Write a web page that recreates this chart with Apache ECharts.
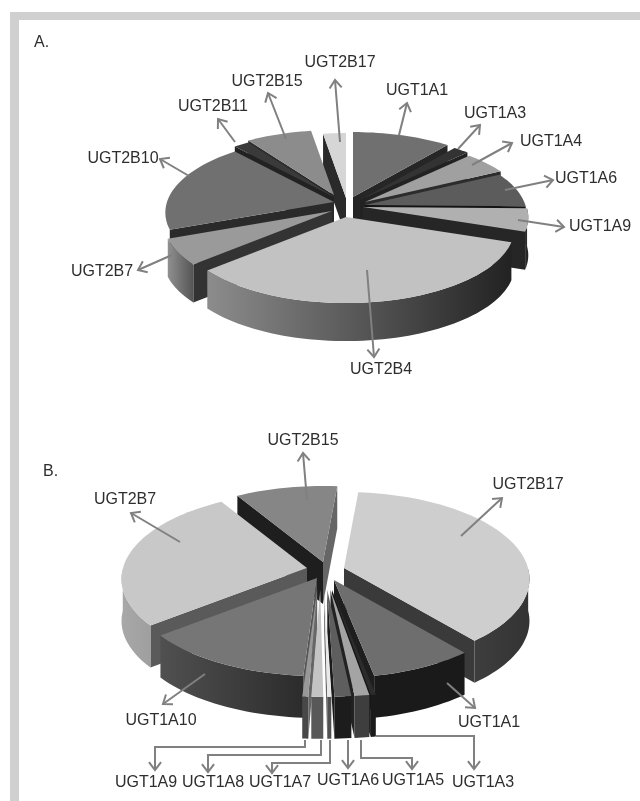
<!DOCTYPE html>
<html>
<head>
<meta charset="utf-8">
<style>
  html, body { margin: 0; padding: 0; background: #fff; }
  #chart-container { width: 640px; height: 801px; filter: blur(0.5px); }
</style>
<script src="https://cdn.jsdelivr.net/npm/echarts@6/dist/echarts.min.js"></script>
</head>
<body>
<div id="chart-container"></div>
<script>
// values, percent of the whole (estimates)
const namesA = ['UGT1A1', 'UGT1A3', 'UGT1A4', 'UGT1A6', 'UGT1A9', 'UGT2B4', 'UGT2B7', 'UGT2B10', 'UGT2B11', 'UGT2B15', 'UGT2B17'];
const valuesA = [10.8, 1.7, 5, 7.8, 5, 33.3, 5.6, 19.4, 1.7, 7.2, 2.5];
const namesB = ['UGT2B17', 'UGT1A1', 'UGT1A3', 'UGT1A5', 'UGT1A6', 'UGT1A7', 'UGT1A8', 'UGT1A9', 'UGT1A10', 'UGT2B7', 'UGT2B15'];
const valuesB = [37.5, 8, 0.35, 1.04, 1.18, 0.28, 0.83, 0.42, 13.3, 27, 10];

// pie shape: radii, perspective, thickness, first slice angle
const pieA = { rx: 167, ry: 74, k: 0.14, depth: 38, start: 0 };
const pieB = { rx: 184, ry: 85.6, k: 0.126, depth: 42, start: 5 };

// per slice look: apex position, radius factor, top colour, radial wall colours, outer wall gradient
const looksA = {
  UGT1A1: { apex: [353, 197], top: '#707070', side: '#262626', wall: ['#777', '#333'] },
  UGT1A3: { apex: [360, 200], top: '#333333', side: '#222', wall: ['#555', '#222'] },
  UGT1A4: { apex: [365, 202], r: 0.97, top: '#a0a0a0', side: '#2c2c2c', wall: ['#777', '#333'] },
  UGT1A6: { apex: [365, 205], r: 0.96, top: '#5c5c5c', side: '#141414', wall: ['#1c1c1c', '#1c1c1c'] },
  UGT1A9: { apex: [363, 207], r: 0.98, top: '#b0b0b0', side: '#262626', wall: ['#333', '#1e1e1e'] },
  UGT2B4: { apex: [346, 217], top: '#c2c2c2', side: '#222', wall: ['#8c8c8c', '#222'] },
  UGT2B7: { apex: [332, 211], top: '#9a9a9a', side: '#333', wall: ['#909090', '#555'] },
  UGT2B10: { apex: [334, 202], top: '#707070', side: '#2a2a2a', noWall: true, wall: ['#666', '#333'] },
  UGT2B11: { apex: [334, 197], top: '#3a3a3a', side: '#222', wall: ['#444', '#222'] },
  UGT2B15: { apex: [334, 195], top: '#8c8c8c', side: '#2a2a2a', wall: ['#666', '#333'] },
  UGT2B17: { apex: [346, 198], top: '#d6d6d6', side: '#2a2a2a', wall: ['#888', '#444'] }
};
const looksB = {
  UGT2B17: { apex: [344, 568], top: '#cecece', side: '#3a3a3a', wall: ['#555', '#333'] },
  UGT1A1: { apex: [334, 580], top: '#6e6e6e', side: '#1e1e1e', wall: ['#1a1a1a', '#1a1a1a'] },
  UGT1A3: { apex: [332, 590], r: 1.09, top: '#2c2c2c', side: '#161616', wall: ['#1a1a1a', '#1a1a1a'] },
  UGT1A5: { apex: [330.5, 590], r: 1.09, top: '#a4a4a4', side: '#222', wall: ['#3e3e3e', '#3e3e3e'] },
  UGT1A6: { apex: [327.3, 590], r: 1.09, top: '#5e5e5e', side: '#1a1a1a', wall: ['#1c1c1c', '#1c1c1c'] },
  UGT1A7: { apex: [324.2, 590], r: 1.09, top: '#e8e8e8', side: '#666', wall: ['#505050', '#505050'] },
  UGT1A8: { apex: [320.2, 590], r: 1.09, top: '#c4c4c4', side: '#666', wall: ['#585858', '#585858'] },
  UGT1A9: { apex: [317.2, 590], r: 1.09, top: '#989898', side: '#666', wall: ['#484848', '#484848'] },
  UGT1A10: { apex: [317, 578], top: '#767676', side: '#555', wall: ['#505050', '#2c2c2c'] },
  UGT2B7: { apex: [307, 568], top: '#c8c8c8', side: '#5a5a5a', wall: ['#a8a8a8', '#888'] },
  UGT2B15: { apex: [323, 562], top: '#868686', side: '#1e1e1e', sideEnd: '#666', wall: ['#666', '#555'] }
};

// label centre and leader line of each slice, tail first, tip last
const calloutsA = {
  UGT1A1: { at: [417, 91], line: [[399, 135], [407, 103]] },
  UGT1A3: { at: [495, 114], line: [[458, 149], [480, 125]] },
  UGT1A4: { at: [551, 142], line: [[472, 165], [512, 143]] },
  UGT1A6: { at: [586, 179], line: [[505, 190], [553, 180]] },
  UGT1A9: { at: [600, 227], line: [[518, 220], [564, 227]] },
  UGT2B4: { at: [381, 370], line: [[367, 270], [374, 357]] },
  UGT2B7: { at: [102, 272], line: [[172, 255], [138, 270]] },
  UGT2B10: { at: [123, 159], line: [[189, 176], [160, 159]] },
  UGT2B11: { at: [213, 107], line: [[235, 142], [218, 119]] },
  UGT2B15: { at: [267, 82], line: [[286, 139], [268, 93]] },
  UGT2B17: { at: [340, 63], line: [[340, 142], [335, 80]] }
};
const calloutsB = {
  UGT2B17: { at: [528, 485], line: [[461, 536], [502, 498]] },
  UGT1A1: { at: [489, 723], line: [[447, 683], [475, 708]] },
  UGT1A3: { at: [483, 783], line: [[376, 736], [474, 736], [474, 769]] },
  UGT1A5: { at: [413, 781], line: [[361, 740], [361, 758], [412, 758], [412, 769]] },
  UGT1A6: { at: [348, 781], line: [[348, 740], [348, 768]] },
  UGT1A7: { at: [280, 783], line: [[330, 740], [330, 763], [272, 763], [272, 773]] },
  UGT1A8: { at: [213, 783], line: [[321, 740], [321, 755], [208, 755], [208, 772]] },
  UGT1A9: { at: [146, 783], line: [[305, 740], [305, 747], [155, 747], [155, 770]] },
  UGT1A10: { at: [161, 721], line: [[205, 674], [163, 704]] },
  UGT2B7: { at: [125, 500], line: [[180, 542], [131, 513]] },
  UGT2B15: { at: [303, 441], line: [[307, 500], [303, 453]] }
};

var dom = document.getElementById('chart-container');
var myChart = echarts.init(dom, null, { renderer: 'canvas' });

function rim(pie, look, deg) {
  const a = deg * Math.PI / 180;
  const r = look.r || 1;
  const u = Math.sin(a);
  const v = -Math.cos(a);
  const d = 1 - pie.k * v;
  return [look.apex[0] + r * pie.rx * u / d, look.apex[1] + r * pie.ry * v / d];
}

function pieSeries(name, names, values, pie, looks) {
  const total = values.reduce((s, v) => s + v, 0);
  let acc = pie.start;
  const slices = names.map((n, i) => {
    const from = acc;
    acc += values[i] / total * 360;
    return { name: n, from: from, to: acc, look: looks[n] };
  });
  // painter order, back of the pie first
  const rank = {};
  slices
    .map((s, i) => ({ i: i, y: -Math.cos((s.from + s.to) / 2 * Math.PI / 180) }))
    .sort((p, q) => p.y - q.y)
    .forEach((p, n) => { rank[p.i] = n; });

  return {
    type: 'custom',
    name: name,
    coordinateSystem: 'none',
    silent: true,
    data: names.map((n, i) => ({ name: n, value: [i, values[i]] })),
    renderItem: function (params, api) {
      const i = api.value(0);
      const s = slices[i];
      const look = s.look;
      const h = pie.depth;
      const low = p => [p[0], p[1] + h];
      const z = rank[i] * 4;
      const a = look.apex;
      const steps = Math.max(2, Math.ceil((s.to - s.from) / 2));
      const arc = [];
      for (let n = 0; n <= steps; n++) {
        arc.push(rim(pie, look, s.from + (s.to - s.from) * n / steps));
      }
      const first = arc[0];
      const last = arc[arc.length - 1];
      const children = [];
      // only walls that face the viewer get drawn
      if (Math.sin(s.from * Math.PI / 180) < 0) {
        children.push({ type: 'polygon', z2: z, shape: { points: [a, first, low(first), low(a)] }, style: { fill: look.side } });
      }
      if (Math.sin(s.to * Math.PI / 180) > 0) {
        children.push({ type: 'polygon', z2: z, shape: { points: [a, last, low(last), low(a)] }, style: { fill: look.sideEnd || look.side } });
      }
      const front = [];
      for (let n = 0; n <= steps; n++) {
        if (Math.cos((s.from + (s.to - s.from) * n / steps) * Math.PI / 180) <= 0) front.push(arc[n]);
      }
      if (front.length > 1 && !look.noWall) {
        const xs = arc.map(p => p[0]);
        const grad = new echarts.graphic.LinearGradient(Math.min(...xs), 0, Math.max(...xs), 0, [
          { offset: 0, color: look.wall[0] },
          { offset: 1, color: look.wall[1] }
        ], true);
        children.push({ type: 'polygon', z2: z + 1, shape: { points: front.concat(front.map(low).reverse()) }, style: { fill: grad } });
      }
      children.push({ type: 'polygon', z2: z + 2, shape: { points: [a].concat(arc) }, style: { fill: look.top } });
      return { type: 'group', children: children };
    }
  };
}

function calloutSeries(name, names, callouts) {
  return {
    type: 'custom',
    name: name,
    coordinateSystem: 'none',
    silent: true,
    z: 5,
    data: names.map((n, i) => ({ name: n, value: [i] })),
    renderItem: function (params, api) {
      const c = callouts[names[api.value(0)]];
      const tip = c.line[c.line.length - 1];
      const prev = c.line[c.line.length - 2];
      const ang = Math.atan2(tip[1] - prev[1], tip[0] - prev[0]);
      const wing = t => [tip[0] - 10 * Math.cos(ang + t), tip[1] - 10 * Math.sin(ang + t)];
      const stroke = { fill: null, stroke: '#808080', lineWidth: 2 };
      return {
        type: 'group',
        children: [
          { type: 'polyline', shape: { points: c.line }, style: stroke },
          { type: 'polyline', shape: { points: [wing(0.65), tip, wing(-0.65)] }, style: stroke },
          {
            type: 'text',
            x: c.at[0],
            y: c.at[1],
            style: {
              text: names[api.value(0)],
              align: 'center',
              verticalAlign: 'middle',
              font: '16px "Liberation Sans"',
              fill: '#2e2e2e'
            }
          }
        ]
      };
    }
  };
}

myChart.setOption({
  backgroundColor: '#ffffff',
  animation: false,
  graphic: [
    { type: 'rect', shape: { x: 10, y: 12, width: 630, height: 8 }, style: { fill: '#d0d0d0' } },
    { type: 'rect', shape: { x: 10, y: 12, width: 9, height: 789 }, style: { fill: '#d0d0d0' } },
    { type: 'text', x: 34, y: 35, style: { text: 'A.', font: '16px "Liberation Sans"', fill: '#2e2e2e' } },
    { type: 'text', x: 43, y: 464, style: { text: 'B.', font: '16px "Liberation Sans"', fill: '#2e2e2e' } }
  ],
  series: [
    pieSeries('A', namesA, valuesA, pieA, looksA),
    pieSeries('B', namesB, valuesB, pieB, looksB),
    calloutSeries('labels A', namesA, calloutsA),
    calloutSeries('labels B', namesB, calloutsB)
  ]
});

window.addEventListener('resize', myChart.resize);
</script>
</body>
</html>
